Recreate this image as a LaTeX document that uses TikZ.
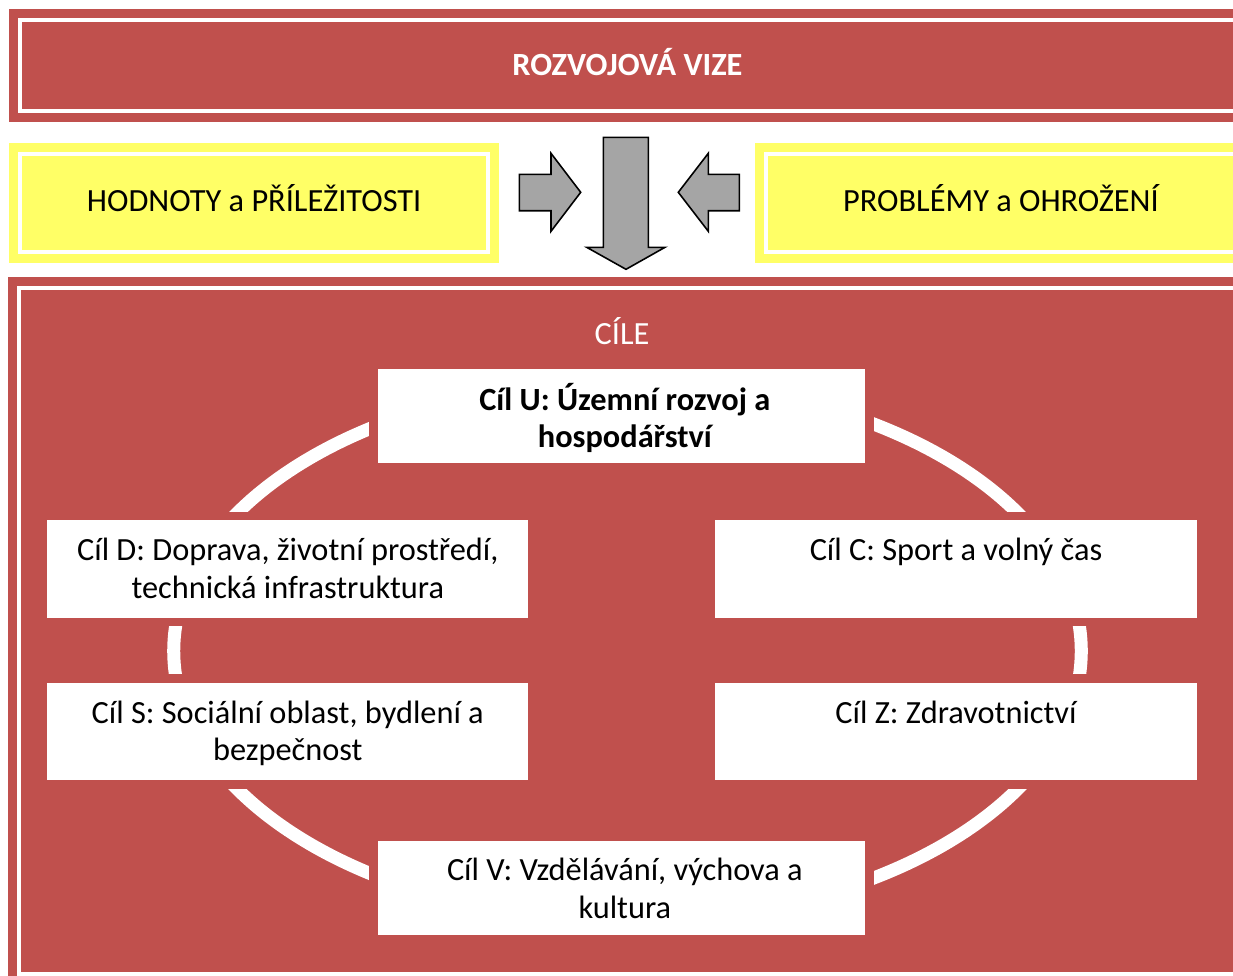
\documentclass[tikz,border=0pt]{standalone}
\usepackage{fontspec}
\setmainfont{Carlito}
\usetikzlibrary{calc}
\definecolor{cred}{HTML}{C0504D}
\definecolor{cyel}{HTML}{FFFF66}
\definecolor{cgray}{HTML}{A5A5A5}
\newdimen\pxu \pxu=0.28453pt
\begin{document}
\begin{tikzpicture}[x=0.01cm,y=-0.01cm,
  every node/.style={inner sep=0pt, outer sep=0pt},
  frame/.style={fill=#1, draw=none, text height=20.8\pxu, text depth=1\pxu,
     font=\fontsize{9.2}{10.67}\selectfont},
  goal/.style={fill=white, draw=none, preaction={draw=cred, line width=17\pxu},
     minimum width=481\pxu, minimum height=97.6\pxu},
  goalwide/.style={goal, minimum width=487.3\pxu, minimum height=94.2\pxu},
  gtext/.style={anchor=base, align=center, font=\fontsize{9.2}{10.67}\selectfont, text=black},
  inline/.style={draw=white, line width=4\pxu},
  arrowshape/.style={fill=cgray, draw=black, line width=0.45pt, line join=miter},
  ring/.style={draw=white, line width=13\pxu}
]
\useasboundingbox (0,0) rectangle (1233,975);
\clip (0,0) rectangle (1233,975);

% top frame
\node[frame=cred, minimum width=1237\pxu, minimum height=113\pxu, text=white,
      font=\fontsize{9.2}{10.67}\selectfont\bfseries] (vize) at (627.5,65.5) {ROZVOJOVÁ VIZE};
\draw[inline] ($(vize.north west)+(11,11)$) rectangle ($(vize.south east)+(-11,-11)$);

% yellow boxes
\node[frame=cyel, text depth=4\pxu, minimum width=490.3\pxu, minimum height=120\pxu, text=black] (hod) at (254.15,202.7) {HODNOTY a PŘÍLEŽITOSTI};
\draw[inline] ($(hod.north west)+(11,11)$) rectangle ($(hod.south east)+(-11,-11)$);
\node[frame=cyel, text depth=4\pxu, minimum width=492\pxu, minimum height=120\pxu, text=black] (prob) at (1001,202.7) {PROBLÉMY a OHROŽENÍ};
\draw[inline] ($(prob.north west)+(11,11)$) rectangle ($(prob.south east)+(-11,-11)$);

% arrows
\draw[arrowshape] (519.3,174.3) -- (551,174.3) -- (551,153.3) -- (580.7,192.3) -- (551,231.3) -- (551,210.7) -- (519.3,210.7) -- cycle;
\draw[arrowshape] (739.3,174.3) -- (708.3,174.3) -- (708.3,153.3) -- (678.3,192.3) -- (708.3,231.3) -- (708.3,210.7) -- (739.3,210.7) -- cycle;
\draw[arrowshape] (603.3,137.3) -- (648.3,137.3) -- (648.3,247.3) -- (665,247.3) -- (626,269.3) -- (586.7,247.3) -- (603.3,247.3) -- cycle;

% bottom frame
\node[frame=cred, minimum width=1237.5\pxu, minimum height=708\pxu] (cile) at (627.25,630.7) {};
\draw[inline] ($(cile.north west)+(11,11)$) rectangle ($(cile.south east)+(-11,-11)$);
\node[anchor=base, text=white, font=\fontsize{9.2}{10.67}\selectfont] (ciletitle) at (622,344) {CÍLE};

% ring
\draw[ring] (627.5,651) ellipse [x radius=453.5\pxu, y radius=270\pxu];

% goals
\node[goalwide] (U) at (621.35,416.3) {};
\node[goal] (D) at (287.8,569) {};
\node[goal] (C) at (956,569) {};
\node[goal] (S) at (287.8,731.35) {};
\node[goal] (Z) at (956,731.35) {};
\node[goalwide] (V) at (621.35,887.85) {};

% text (base = baseline of the last line)
\node[gtext, font=\fontsize{9.2}{10.67}\selectfont\bfseries] (tU) at ($(U.north)+(3.5,78.5)$) {Cíl U: Územní rozvoj a\\hospodářství};
\node[gtext] (tD) at ($(D.north)+(0,78.3)$) {Cíl D: Doprava, životní prostředí,\\technická infrastruktura};
\node[gtext] (tC) at ($(C.north)+(0,40.3)$) {Cíl C: Sport a volný čas};
\node[gtext] (tS) at ($(S.north)+(0,78.3)$) {Cíl S: Sociální oblast, bydlení a\\bezpečnost};
\node[gtext] (tZ) at ($(Z.north)+(0,40.6)$) {Cíl Z: Zdravotnictví};
\node[gtext] (tV) at ($(V.north)+(3.5,77.3)$) {Cíl V: Vzdělávání, výchova a\\kultura};
\end{tikzpicture}
\end{document}
